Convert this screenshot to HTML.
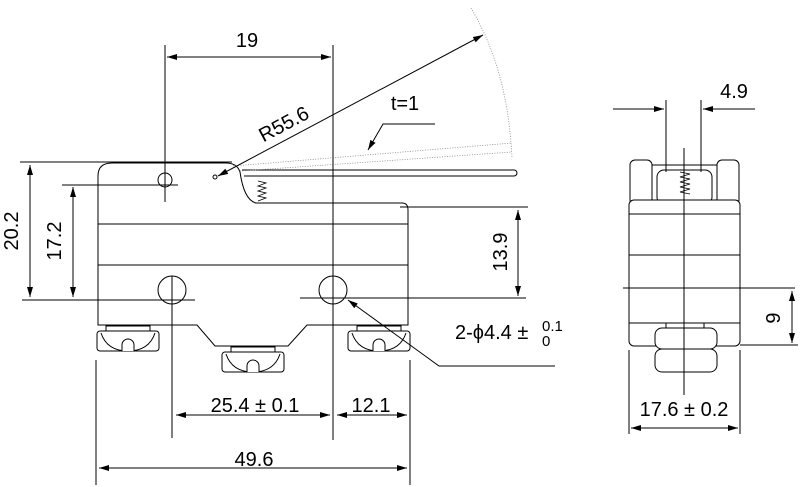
<!DOCTYPE html>
<html><head><meta charset="utf-8"><style>
html,body{margin:0;padding:0;background:#fff;}
svg{display:block;}
text{font-family:"Liberation Sans",sans-serif;fill:#000;}
</style></head><body>
<svg width="800" height="487" viewBox="0 0 800 487" xmlns="http://www.w3.org/2000/svg">
<defs>
<marker id="a" viewBox="0 0 10 6" refX="10" refY="3" markerWidth="10" markerHeight="6" orient="auto-start-reverse" markerUnits="userSpaceOnUse"><path d="M0,0L10,3L0,6z" fill="#000"/></marker>
<g id="term">
<rect x="9" y="-5" width="44" height="5" fill="#fff" stroke="#000" stroke-width="1"/>
<rect x="0" y="0" width="62" height="20" rx="3" fill="#fff" stroke="#000" stroke-width="1"/>
<path d="M4,2 Q10,20 31,20 Q52,20 58,2" fill="none" stroke="#000" stroke-width="1"/>
<path d="M25,20 V14 A6,6 0 0 1 37,14 V20" fill="#fff" stroke="#000" stroke-width="1"/>
</g>
</defs>
<g stroke="#000" stroke-width="1">
<use href="#term" x="97" y="331"/>
<use href="#term" x="222" y="352"/>
<use href="#term" x="348" y="331"/>
</g>
<g fill="none" stroke="#000" stroke-width="1">
<path d="M98,325 V176 Q98,163 112,163 H226 Q237,163 240,172 Q244,200 256,203 H402 Q408,203 408,210 V325 H307 L288,346 H215 L197,325 Z"/>
<line x1="98" y1="224" x2="408" y2="224"/>
<line x1="98" y1="265" x2="408" y2="265"/>
<path d="M242,170 H514 A3,3 0 0 1 514,176 H244"/>
<path d="M258,181 L266,183 L258,186 L266,188 L258,191 L266,193 L258,196 L266,198 L258,201" stroke-width="0.8"/>
<circle cx="165" cy="180" r="7"/>
<circle cx="215" cy="177" r="2"/>
<circle cx="172" cy="290" r="14"/>
<circle cx="333" cy="290" r="14"/>
<g stroke="#888" stroke-dasharray="1,1.5" stroke-width="0.8">
<line x1="233" y1="166" x2="512" y2="143"/>
<line x1="240" y1="171" x2="512" y2="152"/>
<path d="M471,8 Q508,70 512,158"/>
</g>
<line x1="333" y1="45" x2="333" y2="440"/>
<line x1="165" y1="45" x2="165" y2="202"/>
<line x1="62" y1="185" x2="178" y2="185"/>
<line x1="20" y1="162" x2="232" y2="162"/>
<line x1="22" y1="300" x2="195" y2="300"/>
<line x1="172" y1="276" x2="172" y2="438"/>
<line x1="300" y1="298" x2="526" y2="298"/>
<line x1="400" y1="207" x2="528" y2="207"/>
<line x1="96" y1="360" x2="96" y2="485"/>
<line x1="410" y1="360" x2="410" y2="485"/>
<line x1="167" y1="57" x2="331" y2="57" marker-start="url(#a)" marker-end="url(#a)"/>
<line x1="218" y1="176" x2="483" y2="35" marker-start="url(#a)" marker-end="url(#a)"/>
<path d="M435,124 H383 L368,150" marker-end="url(#a)"/>
<line x1="30" y1="165" x2="30" y2="297" marker-start="url(#a)" marker-end="url(#a)"/>
<line x1="73" y1="187" x2="73" y2="297" marker-start="url(#a)" marker-end="url(#a)"/>
<line x1="518" y1="210" x2="518" y2="296" marker-start="url(#a)" marker-end="url(#a)"/>
<line x1="176" y1="415" x2="330" y2="415" marker-start="url(#a)" marker-end="url(#a)"/>
<line x1="337" y1="415" x2="407" y2="415" marker-start="url(#a)" marker-end="url(#a)"/>
<line x1="99" y1="468" x2="407" y2="468" marker-start="url(#a)" marker-end="url(#a)"/>
<path d="M555,366 H439 L348,300" marker-end="url(#a)"/>
<rect x="630" y="160" width="22" height="45" rx="5"/>
<rect x="717" y="160" width="22" height="45" rx="5"/>
<line x1="652" y1="165" x2="717" y2="165"/>
<rect x="657" y="170" width="55" height="34" rx="7"/>
<path d="M680,172 L690,174 L680,177 L690,179 L680,182 L690,184 L680,187 L690,189 L680,192 L690,194" stroke-width="0.8"/>
<rect x="629" y="200" width="111" height="146" rx="5" fill="#fff"/>
<line x1="629" y1="214" x2="740" y2="214"/>
<line x1="629" y1="255" x2="740" y2="255"/>
<line x1="629" y1="323" x2="740" y2="323"/>
<rect x="666" y="323" width="38" height="5"/>
<rect x="655" y="328" width="62" height="21" rx="7" fill="#fff"/>
<rect x="655" y="349" width="62" height="23" rx="7" fill="#fff"/>
<line x1="684" y1="148" x2="684" y2="395"/>
<line x1="666" y1="100" x2="666" y2="172"/>
<line x1="701" y1="100" x2="701" y2="172"/>
<line x1="613" y1="109" x2="664" y2="109" marker-end="url(#a)"/>
<line x1="755" y1="109" x2="703" y2="109" marker-end="url(#a)"/>
<line x1="623" y1="288" x2="795" y2="288"/>
<line x1="740" y1="345" x2="798" y2="345"/>
<line x1="792" y1="291" x2="792" y2="343" marker-start="url(#a)" marker-end="url(#a)"/>
<line x1="629" y1="350" x2="629" y2="434"/>
<line x1="740" y1="350" x2="740" y2="434"/>
<line x1="631" y1="428" x2="738" y2="428" marker-start="url(#a)" marker-end="url(#a)"/>
</g>
<g font-size="20">
<text x="247" y="47" text-anchor="middle">19</text>
<text transform="translate(287,130) rotate(-28)" text-anchor="middle">R55.6</text>
<text x="405" y="110" text-anchor="middle">t=1</text>
<text transform="translate(18,231) rotate(-90)" text-anchor="middle">20.2</text>
<text transform="translate(61,241) rotate(-90)" text-anchor="middle">17.2</text>
<text transform="translate(507,252) rotate(-90)" text-anchor="middle">13.9</text>
<text x="255" y="412" text-anchor="middle">25.4 ± 0.1</text>
<text x="371" y="412" text-anchor="middle">12.1</text>
<text x="254" y="466" text-anchor="middle">49.6</text>
<text x="455" y="339">2-ϕ4.4 ±</text>
<text x="542" y="331" font-size="15">0.1</text>
<text x="542" y="346" font-size="15">0</text>
<text x="734" y="98" text-anchor="middle">4.9</text>
<text transform="translate(780,318) rotate(-90)" text-anchor="middle">9</text>
<text x="684" y="416" text-anchor="middle">17.6 ± 0.2</text>
</g>
</svg>
</body></html>
